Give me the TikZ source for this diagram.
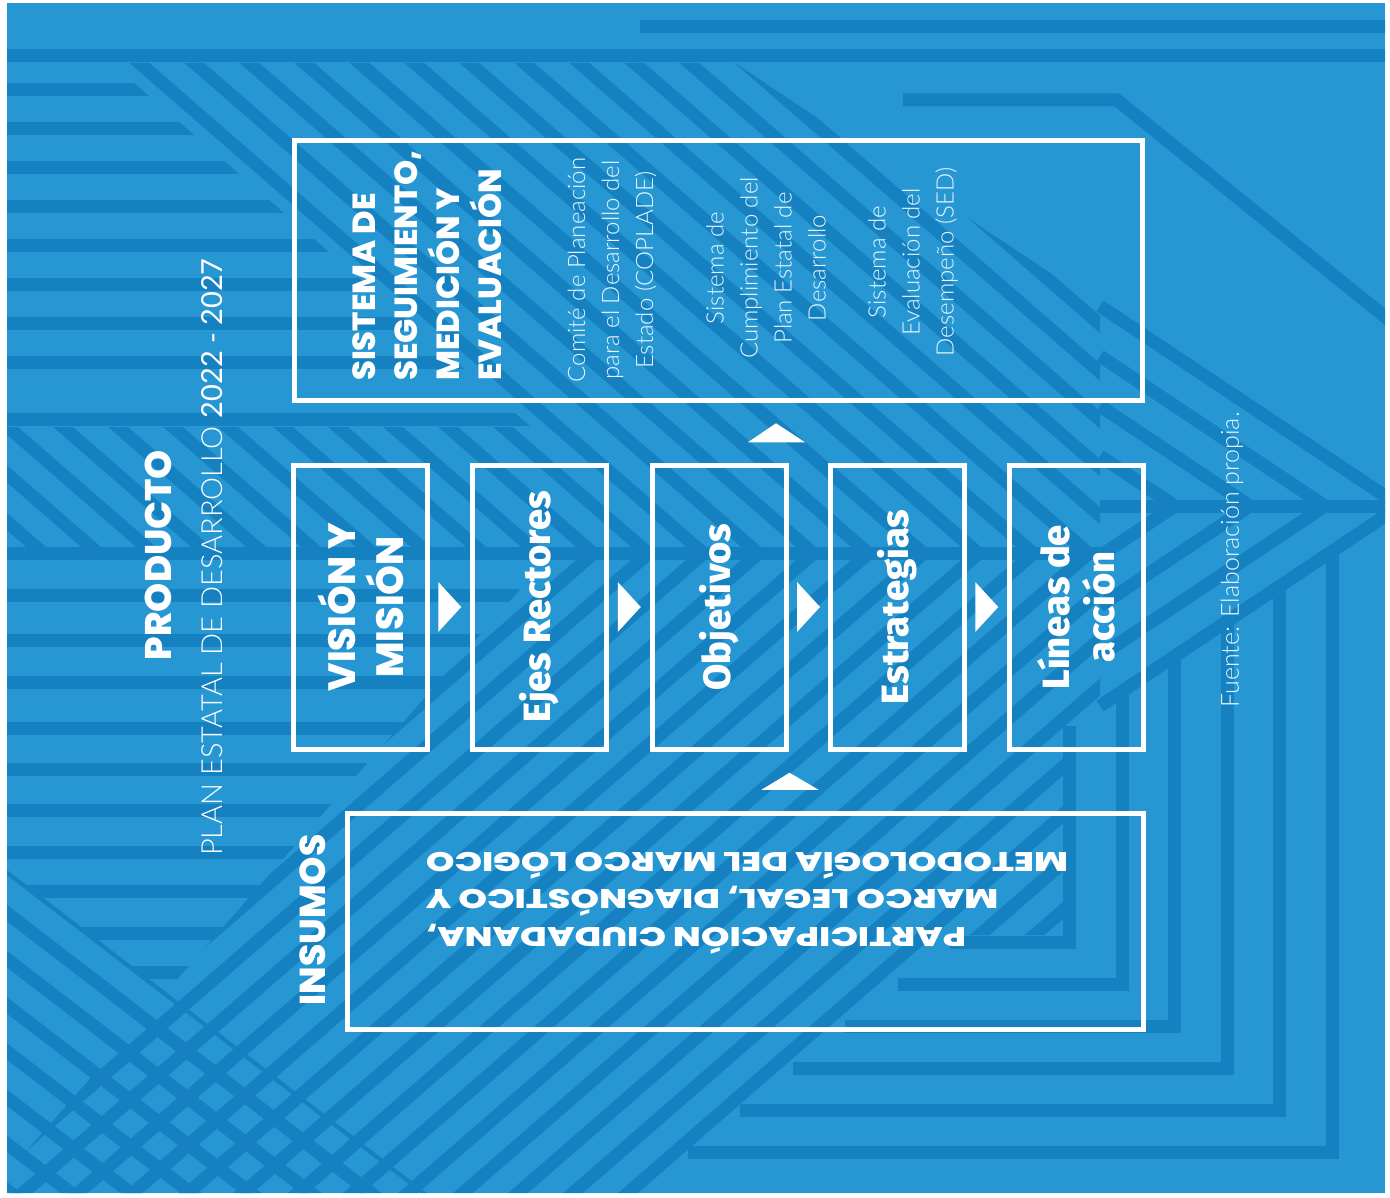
\documentclass[tikz,border=0pt]{standalone}
\usepackage{fontspec}
\usepackage{graphicx}
\usetikzlibrary{calc}
\setmainfont{Lato}
\IfFontExistsTF{Lato Light}{\newfontfamily\lightf{Lato Light}}{\newfontfamily\lightf{Lato}}
\newfontfamily\regf{Lato}
\IfFontExistsTF{Poppins ExtraBold}{%
  \newfontfamily\heavyf{Poppins ExtraBold}%
  \newfontfamily\widef{Poppins ExtraBold}[FakeStretch=1.35]}{%
  \newfontfamily\heavyfb{Poppins}\newcommand\heavyf{\heavyfb\bfseries}%
  \newfontfamily\widefb{Poppins}[FakeStretch=1.35]\newcommand\widef{\widefb\bfseries}}
\IfFontExistsTF{Fira Sans ExtraBold}{\newfontfamily\humf{Fira Sans ExtraBold}}{%
  \newfontfamily\humfb{Fira Sans}\newcommand\humf{\humfb\bfseries}}
\definecolor{bg}{HTML}{2797D3}
\definecolor{sd}{HTML}{1681C1}
\colorlet{lt}{white!90!bg}
\begin{document}
\begin{tikzpicture}[x=1pt,y=-1pt,
  stripe/.style={draw=sd,line width=13pt},
  boxw/.style={draw=white,line width=5pt,inner sep=0pt},
  tri/.style={fill=white},
  boldlbl/.style={rotate=90,align=center,text=white,font={\heavyf\fontsize{38}{48}\selectfont}},
  humlbl/.style={rotate=90,align=center,text=white,font={\humf\fontsize{38}{45}\selectfont}},
  lightlbl/.style={rotate=90,align=center,text=lt,font={\lightf\fontsize{24}{34}\selectfont}}]
\fill[white] (0,0) rectangle (1390,1198);
\useasboundingbox (0,0) rectangle (1390,1198);
\fill[bg] (7,3) rectangle (1385,1193);
% ---------- background stripes ----------
\begin{scope}
\clip (7,3) rectangle (1385,1193);
\draw[stripe] (0,56) -- (1390,56);
\draw[stripe] (640,27) -- (1390,27);
\draw[stripe,line join=miter] (903,100) -- (1117,100) -- (1400,329);
% top-left horizontals
\begin{scope}
\clip (7,63) -- (111,63) -- (531,427) -- (7,427) -- cycle;
\foreach \yy in {90,129,168,207,246,285,324,363,419} \draw[stripe] (0,\yy) -- (1390,\yy);
\end{scope}
% descending diagonals
\begin{scope}
\clip (111,63) -- (735,63) -- (1100,306) -- (1100,552) -- (7,552) -- (7,427) -- (531,427) -- cycle;
\foreach \k in {-26,...,26} \draw[stripe] ({67+55*\k},0) -- ({67+55*\k+1380},1200);
\end{scope}
\draw[stripe] (0,553) -- (1100,553);
% left horizontals below the axis
\begin{scope}
\clip (7,560) -- (546,560) -- (166,992) -- (7,870) -- cycle;
\foreach \yy in {595,640,682,728,769,810,852,891,933,972} \draw[stripe] (0,\yy) -- (1390,\yy);
\end{scope}
% ascending diagonals
\begin{scope}
\clip (553,552) -- (1100,552) -- (1100,706) -- (1063,731) -- (1063,935) -- (959,935) -- (640,1193) -- (7,1193) -- (7,1173) -- cycle;
\foreach \k in {0,...,52} \draw[stripe] ({20+55*\k},0) -- ({20+55*\k-1380},1200);
\end{scope}
% bottom-left descending diagonals
\begin{scope}
\clip (7,870) -- (166,992) -- (427,1193) -- (7,1193) -- cycle;
\foreach \k in {-27,...,-10} \draw[stripe] ({20+60*\k},0) -- ({20+60*\k+1560},1200);
\end{scope}
% chevron on the right
\foreach \k in {0,...,3} \draw[stripe,line join=miter] (1100,{306+50*\k}) -- ({1400-75*\k},506) -- (1100,{706-50*\k});
\draw[stripe] (1100,506) -- (1400,506);
% bottom-right frame
\foreach \i in {0,...,5} {
  \pgfmathsetmacro\frX{1332-52.5*\i}
  \pgfmathsetmacro\frY{1152-42*\i}
  \pgfmathsetmacro\frT{506+(1400-\frX)/1.5}
  \pgfmathsetmacro\frL{640+1.25*(1190-\frY)}
  \draw[stripe,line join=miter] (\frX,\frT) -- (\frX,\frY) -- (\frL,\frY);
}
\end{scope}
% ---------- boxes ----------
\node[boxw,minimum width=848,minimum height=260] (sis) at (718.5,270.5) {};
\node[boxw,minimum width=134,minimum height=284] (vm) at (360.5,607) {};
\node[boxw,minimum width=134,minimum height=284] (er) at (539,607) {};
\node[boxw,minimum width=134,minimum height=284] (ob) at (719.5,607) {};
\node[boxw,minimum width=134,minimum height=284] (es) at (897.5,607) {};
\node[boxw,minimum width=134,minimum height=284] (la) at (1076,607) {};
\node[boxw,minimum width=796,minimum height=216] (ins) at (745.5,921.5) {};
% ---------- arrowheads ----------
\foreach \a/\b in {vm/er,er/ob,ob/es,es/la} {
  \coordinate (m) at ($(\a.east)!0.5!(\b.west)$);
  \fill[tri] ($(m)+(-11.5,-25)$) -- ($(m)+(11.5,0)$) -- ($(m)+(-11.5,25)$) -- cycle;
}
\coordinate (u1) at ($(sis.south)!0.5!(ob.north)$);
\fill[tri] ($(u1)+(29,9.5)$) -- ($(u1)+(57,-9.5)$) -- ($(u1)+(86,9.5)$) -- cycle;
\coordinate (u2) at ($(ob.south)!0.5!(ins.north)$);
\fill[tri] ($(u2)+(29,8.5)$) -- ($(u2)+(57,-8.5)$) -- ($(u2)+(86,8.5)$) -- cycle;
% ---------- texts ----------
\node[rotate=90,text=white,font={\heavyf\fontsize{37}{40}\selectfont}] (prod) at (158,555) {PRODUCTO};
\node[rotate=90,text=white,font={\lightf\fontsize{29}{32}\selectfont}] (plan) at (212,557) {PLAN ESTATAL DE DESARROLLO {\regf 2022 - 2027}};
\node[rotate=90,anchor=west,align=left,inner sep=0pt,text=white,font={\heavyf\fontsize{32}{42}\selectfont}] (sist) at (427,381) {SISTEMA DE\\SEGUIMIENTO,\\MEDICIÓN Y\\EVALUACIÓN};
\node[lightlbl] (cop) at (612,270) {Comité de Planeación\\para el Desarrollo del\\Estado (COPLADE)};
\node[lightlbl] (cum) at (766,268) {Sistema de\\Cumplimiento del\\Plan Estatal de\\Desarrollo};
\node[lightlbl] (sed) at (913,262) {Sistema de\\Evaluación del\\Desempeño (SED)};
\node[boldlbl] (vmt) at (vm.center) {VISIÓN Y\\MISIÓN};
\node[humlbl] (ert) at (er.center) {Ejes Rectores};
\node[humlbl] (obt) at (ob.center) {Objetivos};
\node[humlbl] (est) at (es.center) {Estrategias};
\node[humlbl] (lat) at (la.center) {Líneas de\\acción};
\node[rotate=90,text=white,font={\heavyf\fontsize{36}{40}\selectfont}] (insl) at (313,920) {INSUMOS};
\node[rotate=180,align=right,text=white,font={\widef\fontsize{27}{37.5}\selectfont}] (inst) at (747,903) {PARTICIPACIÓN CIUDADANA,\\MARCO LEGAL, DIAGNÓSTICO Y\\METODOLOGÍA DEL MARCO LÓGICO};
\node[rotate=90,text=lt,font={\lightf\fontsize{25}{28}\selectfont}] (fte) at (1232,560) {Fuente: Elaboración propia.};
\end{tikzpicture}
\end{document}
